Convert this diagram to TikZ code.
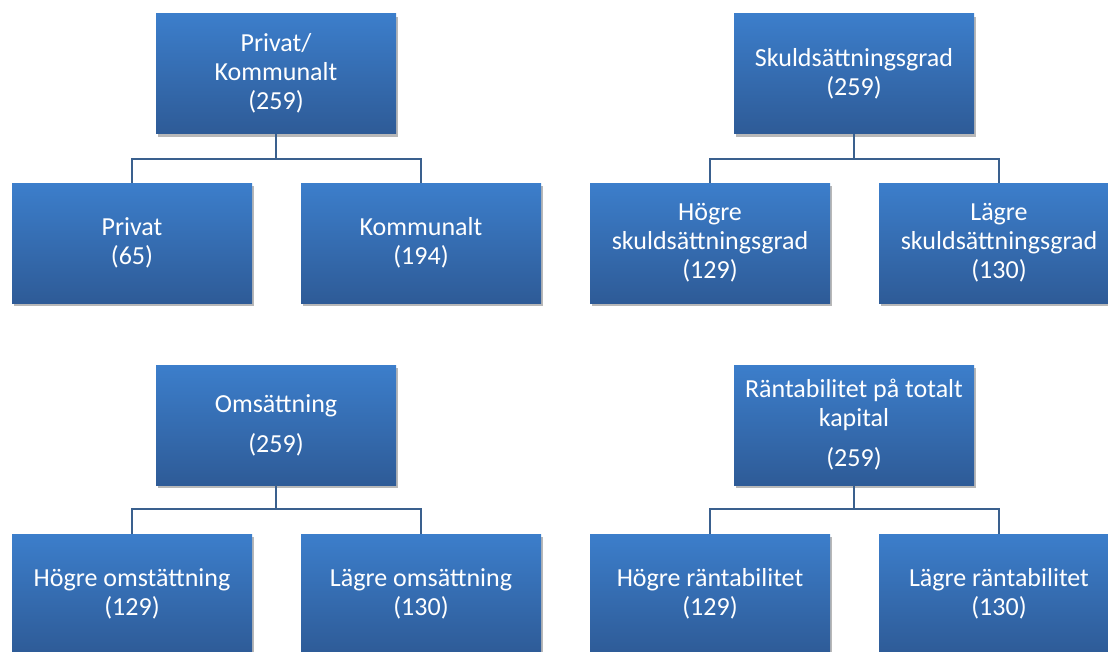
\documentclass[tikz,border=0pt]{standalone}
\usepackage{fontspec}
\setmainfont{Carlito}
\usetikzlibrary{shadows}
\definecolor{boxtop}{RGB}{60,126,203}
\definecolor{boxbot}{RGB}{46,91,151}
\definecolor{conncol}{RGB}{58,96,142}
\tikzset{
  box/.style={rectangle, minimum width=240pt, minimum height=120pt, inner sep=0pt,
    top color=boxtop, bottom color=boxbot, draw=none, text=white, align=center,
    font=\fontsize{26}{29}\selectfont,
    drop shadow={shadow xshift=2pt, shadow yshift=-3pt, fill=black, opacity=0.28}},
  conn/.style={draw=conncol, line width=2pt}
}
\begin{document}
\begin{tikzpicture}[x=1pt,y=1pt]
\useasboundingbox (0,0) rectangle (1108,-651);
\clip (0,0) rectangle (1108,-651);
% group 1
\node[box] (p1) at (276,-73.5) {Privat/\\Kommunalt\\(259)};
\node[box] (p1a) at (132,-243) {Privat\\(65)};
\node[box] (p1b) at (421,-243) {Kommunalt\\(194)};
\draw[conn] (p1.south) -- ++(0,-25) coordinate (j1);
\draw[conn] (p1a.north) |- (j1) -| (p1b.north);
% group 2
\node[box] (p2) at (854,-73.5) {Skuldsättningsgrad\\(259)};
\node[box] (p2a) at (710,-243) {Högre\\skuldsättningsgrad\\(129)};
\node[box] (p2b) at (999,-243) {Lägre\\skuldsättningsgrad\\(130)};
\draw[conn] (p2.south) -- ++(0,-25) coordinate (j2);
\draw[conn] (p2a.north) |- (j2) -| (p2b.north);
% group 3
\node[box] (p3) at (276,-425) {Omsättning\\[11pt](259)};
\node[box] (p3a) at (132,-594) {Högre omstättning\\(129)};
\node[box] (p3b) at (421,-594) {Lägre omsättning\\(130)};
\draw[conn] (p3.south) -- ++(0,-24) coordinate (j3);
\draw[conn] (p3a.north) |- (j3) -| (p3b.north);
% group 4
\node[box] (p4) at (854,-425) {Räntabilitet på totalt\\kapital\\[11pt](259)};
\node[box] (p4a) at (710,-594) {Högre räntabilitet\\(129)};
\node[box] (p4b) at (999,-594) {Lägre räntabilitet\\(130)};
\draw[conn] (p4.south) -- ++(0,-24) coordinate (j4);
\draw[conn] (p4a.north) |- (j4) -| (p4b.north);
\end{tikzpicture}
\end{document}
